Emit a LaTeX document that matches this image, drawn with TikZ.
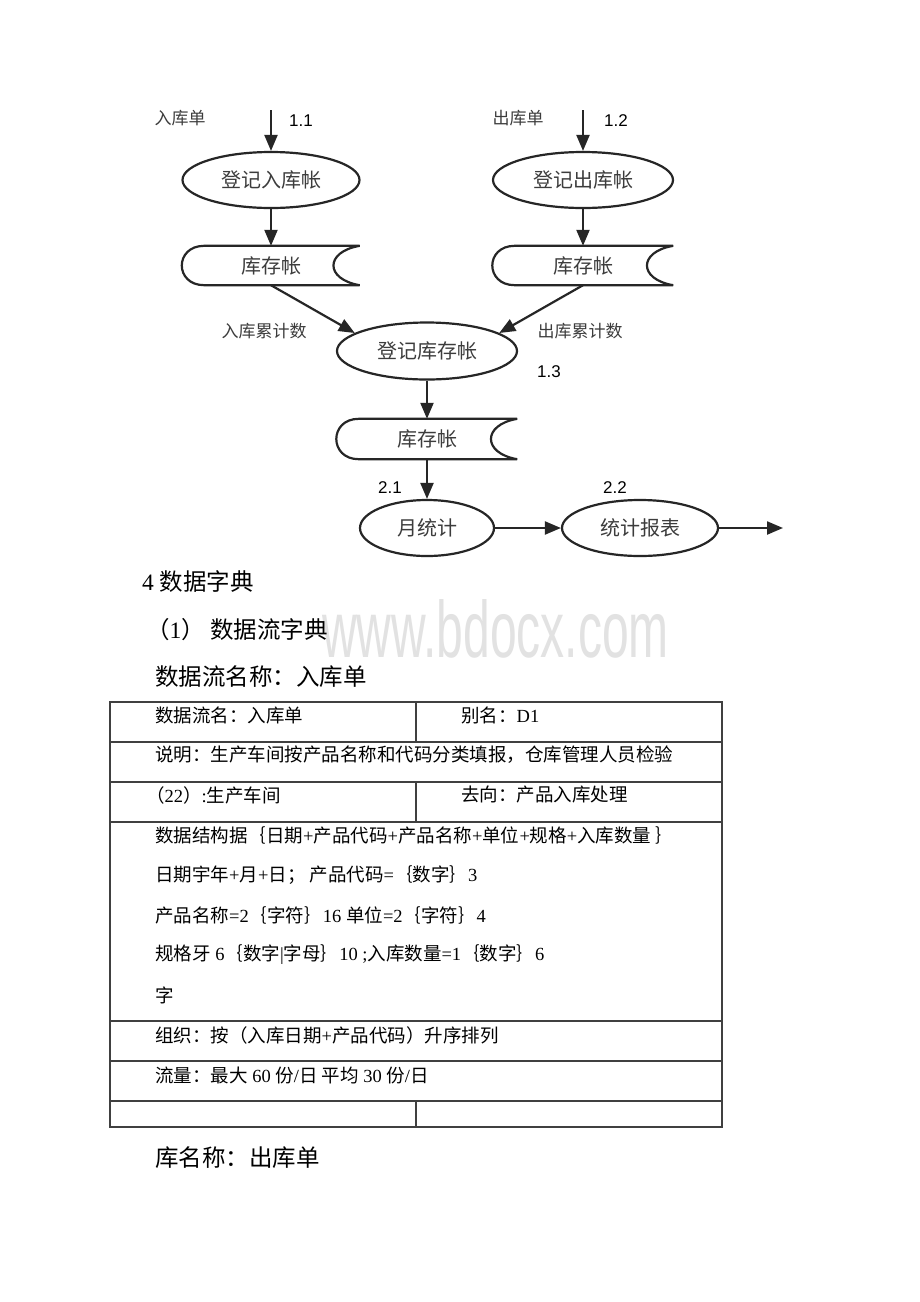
\documentclass[tikz,border=0pt]{standalone}
\usepackage{graphicx}
\usepackage{fontspec}
\setmainfont{Liberation Serif}
\newfontfamily\cjk{Noto Sans CJK SC}
\newfontfamily\arial{Liberation Sans}
\usetikzlibrary{shapes.geometric,arrows.meta}
\definecolor{ink}{HTML}{262626}
\definecolor{inktext}{HTML}{3C3C3C}
\definecolor{rulegray}{HTML}{404040}
\definecolor{wmgray}{HTML}{E2E2E2}
\newcommand\zh[1]{{\cjk #1}}

\begin{document}
\begin{tikzpicture}[x=1pt,y=-1pt]
\tikzset{proc/.style={draw=ink, line width=2.2pt, ellipse, inner sep=0, minimum height=56pt, text=inktext, font=\cjk\fontsize{20}{24}\selectfont},
  store/.style={inner sep=0, minimum width=177pt, minimum height=39pt, text=inktext, font=\cjk\fontsize{20}{24}\selectfont},
  storeline/.style={draw=ink, line width=2.2pt},
  flow/.style={draw=ink, line width=2.2pt, -{Triangle[length=16pt,width=13pt]}},
  lbl/.style={text=inktext, inner sep=0, font=\cjk\fontsize{17}{20}\selectfont},
  num/.style={text=black, inner sep=0, font=\arial\fontsize{17}{20}\selectfont},
  tab/.style={anchor=west, inner sep=0, font=\fontsize{18.5}{22}\selectfont},
  head/.style={anchor=west, inner sep=0, font=\fontsize{23.5}{28}\selectfont},
  tabline/.style={draw=rulegray, line width=1.3pt}}
\fill[white] (0,0) rectangle (920,1302);
\useasboundingbox (0,0) rectangle (920,1302);

% watermark
\node[anchor=base west, inner sep=0, text=wmgray, font=\arial\fontsize{80}{90}\selectfont] (wm) at (322,657) {\scalebox{0.6}[1]{www.bdocx.com}};

% flow diagram
\node[lbl] (in1lbl) at (180,118) {入库单};
\node[lbl] (in2lbl) at (518,118) {出库单};
\coordinate (in1) at (271,110);
\coordinate (in2) at (583,110);
\node[num] (n11) at (301,121) {1.1};
\node[num] (n12) at (616,121) {1.2};
\node[proc, minimum width=177pt] (e1) at (271,180) {登记入库帐};
\node[proc, minimum width=180pt] (e2) at (583,180) {登记出库帐};
\node[store] (s1) at (271,265.5) {库存帐};
\node[store, minimum width=180pt] (s2) at (583,265.5) {库存帐};
\node[lbl] (acc1) at (264,331) {入库累计数};
\node[lbl] (acc2) at (580,331) {出库累计数};
\node[proc, minimum width=180pt, minimum height=57pt] (e3) at (427,351) {登记库存帐};
\node[num] (n13) at (549,372) {1.3};
\node[store, minimum width=180pt, minimum height=40pt] (s3) at (427,439) {库存帐};
\node[num] (n21) at (390,488) {2.1};
\node[num] (n22) at (615,488) {2.2};
\node[proc, minimum width=134pt] (e4) at (427,528) {月统计};
\node[proc, minimum width=156pt] (e5) at (640,528) {统计报表};
\coordinate (out) at (783,528);

\draw[storeline] ([xshift=22pt]s1.north west) -- (s1.north east) .. controls +(-35pt,-6pt) and +(-35pt,6pt) .. (s1.south east) -- ([xshift=22pt]s1.south west) .. controls +(-30pt,0pt) and +(-30pt,0pt) .. ([xshift=22pt]s1.north west);
\draw[storeline] ([xshift=22pt]s2.north west) -- (s2.north east) .. controls +(-35pt,-6pt) and +(-35pt,6pt) .. (s2.south east) -- ([xshift=22pt]s2.south west) .. controls +(-30pt,0pt) and +(-30pt,0pt) .. ([xshift=22pt]s2.north west);
\draw[storeline] ([xshift=22pt]s3.north west) -- (s3.north east) .. controls +(-35pt,-6pt) and +(-35pt,6pt) .. (s3.south east) -- ([xshift=22pt]s3.south west) .. controls +(-30pt,0pt) and +(-30pt,0pt) .. ([xshift=22pt]s3.north west);

\draw[flow] (in1) -- (e1.north);
\draw[flow] (in2) -- (e2.north);
\draw[flow] (e1.south) -- (s1.north);
\draw[flow] (e2.south) -- (s2.north);
\draw[flow] (s1.south) -- (e3.166);
\draw[flow] (s2.south) -- (e3.14);
\draw[flow] (e3.south) -- (s3.north);
\draw[flow] (s3.south) -- (e4.north);
\draw[flow] (e4.east) -- (e5.west);
\draw[flow] (e5.east) -- (out);

% data dictionary
\node[head] (h1) at (142,582) {4 \zh{数据字典}};
\node[head] (h2) at (146,630) {\zh{（}1\zh{）\ 数据流字典}};
\node[head] (h3) at (155,677) {\zh{数据流名称：入库单}};

\draw[tabline] (110,702) rectangle (722,1127);
\draw[tabline] (110,742) -- (722,742);
\draw[tabline] (110,782) -- (722,782);
\draw[tabline] (110,822) -- (722,822);
\draw[tabline] (110,1021) -- (722,1021);
\draw[tabline] (110,1061) -- (722,1061);
\draw[tabline] (110,1101) -- (722,1101);
\draw[tabline] (416,702) -- (416,742);
\draw[tabline] (416,782) -- (416,822);
\draw[tabline] (416,1101) -- (416,1127);

\node[tab] (r1a) at (155,715) {\zh{数据流名：入库单}};
\node[tab] (r1b) at (461,715) {\zh{别名：}D1};
\node[tab] (r2) at (155,755) {\zh{说明：生产车间按产品名称和代码分类填报，仓库管理人员检验}};
\node[tab] (r3a) at (146,795) {\zh{（}22\zh{）}:\zh{生产车间}};
\node[tab] (r3b) at (461,795) {\zh{去向：产品入库处理}};
\node[tab] (r4a) at (155,835) {\zh{数据结构据｛日期}+\zh{产品代码}+\zh{产品名称}+\zh{单位}+\zh{规格}+\zh{入库数量 ｝}};
\node[tab] (r4b) at (155,875) {\zh{日期宇年}+\zh{月}+\zh{日；\ 产品代码}=\zh{｛数字｝}3};
\node[tab] (r4c) at (155,915) {\zh{产品名称}=2\zh{｛字符｝}16 \zh{单位}=2\zh{｛字符｝}4};
\node[tab] (r4d) at (155,955) {\zh{规格牙} 6\zh{｛数字}|\zh{字母｝}10 ;\zh{入库数量}=1\zh{｛数字｝}6};
\node[tab] (r4e) at (155,995) {\zh{字}};
\node[tab] (r5) at (155,1035) {\zh{组织：按（入库日期}+\zh{产品代码）升序排列}};
\node[tab] (r6) at (155,1075) {\zh{流量：最大} 60 \zh{份}/\zh{日 平均} 30 \zh{份}/\zh{日}};

\node[head] (h4) at (155,1158) {\zh{库名称：出库单}};
\end{tikzpicture}
\end{document}
